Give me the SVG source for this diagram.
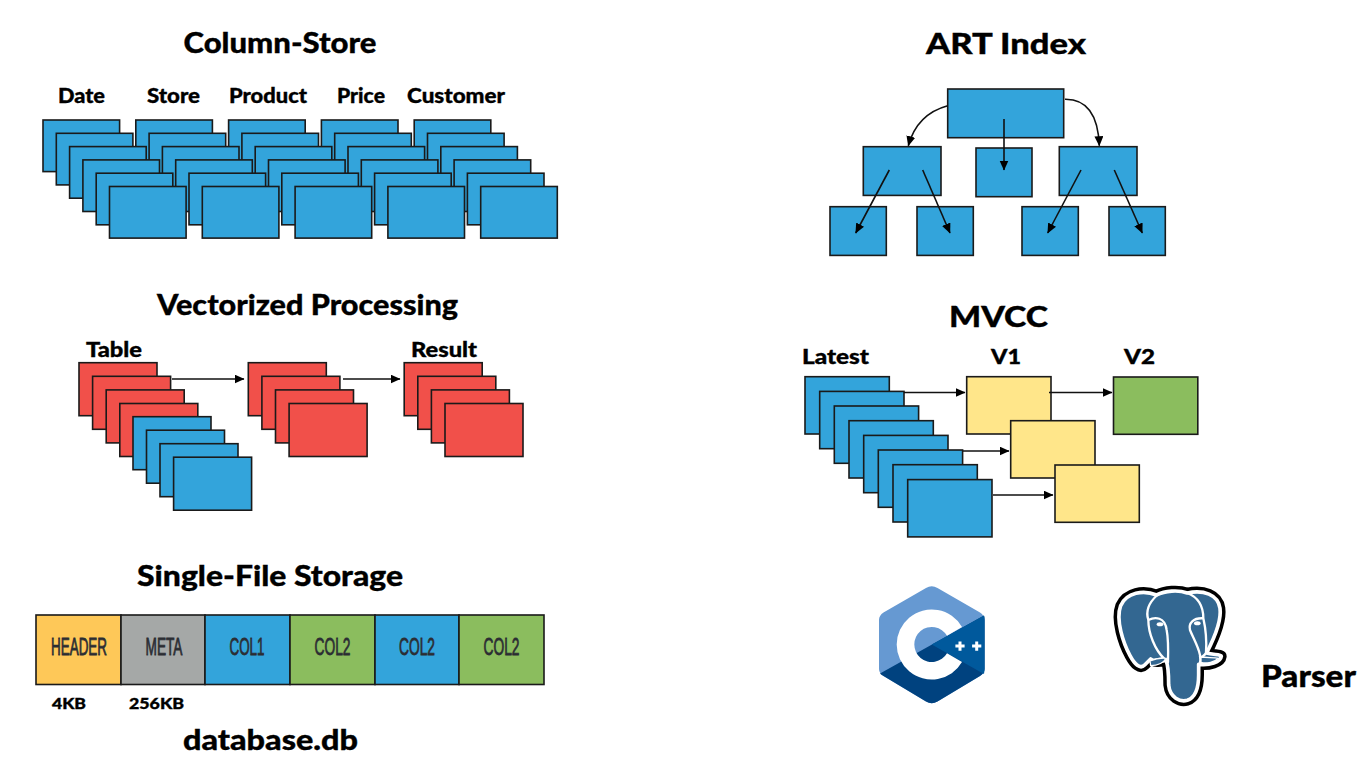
<svg xmlns="http://www.w3.org/2000/svg" width="1365" height="762" viewBox="0 0 1365 762">
<style>
text{font-family:"Lato","Open Sans","Liberation Sans",sans-serif;font-weight:900;fill:#000;text-anchor:middle;stroke:#000;stroke-width:.35}
.t{font-size:29px}.l{font-size:21px}.s{font-size:15px}
.c{font-family:"Liberation Sans Narrow","Liberation Sans",sans-serif;font-weight:400;font-size:23.5px;fill:#2b2d33;stroke:#2b2d33;stroke-width:.8}
rect{stroke:#1a1a1a;stroke-width:1.6}
.b{fill:#33a4db}.r{fill:#f1504a}.y{fill:#ffe68a}.g{fill:#8bbd5e}.h{fill:#fec858}.m{fill:#a5a8a7}
.a{fill:none;stroke:#111;stroke-width:1.6;marker-end:url(#ah)}
</style>
<defs>
<marker id="ah" markerUnits="userSpaceOnUse" markerWidth="11" markerHeight="10" refX="9.5" refY="4.5" orient="auto"><path d="M0 0L10 4.5L0 9Z" fill="#000"/></marker>
<g id="cs">
<rect class="b" x="0" y="0" width="76.6" height="51.6"/><rect class="b" x="13.3" y="13.3" width="76.6" height="51.6"/><rect class="b" x="26.6" y="26.6" width="76.6" height="51.6"/><rect class="b" x="39.9" y="39.9" width="76.6" height="51.6"/><rect class="b" x="53.2" y="53.2" width="76.6" height="51.6"/><rect class="b" x="66.5" y="66.5" width="76.6" height="51.6"/>
</g>
<g id="rs">
<rect class="r" x="0" y="0" width="78" height="53"/><rect class="r" x="13.6" y="13.6" width="78" height="53"/><rect class="r" x="27.2" y="27.2" width="78" height="53"/><rect class="r" x="40.8" y="40.8" width="78" height="53"/>
</g>
</defs>
<g id="column-store">
<text class="t" x="280" y="53" textLength="193" lengthAdjust="spacingAndGlyphs">Column-Store</text>
<text class="l" x="81.5" y="103" textLength="47" lengthAdjust="spacingAndGlyphs">Date</text>
<text class="l" x="173.5" y="103" textLength="53" lengthAdjust="spacingAndGlyphs">Store</text>
<text class="l" x="268" y="103" textLength="78" lengthAdjust="spacingAndGlyphs">Product</text>
<text class="l" x="361" y="103" textLength="48" lengthAdjust="spacingAndGlyphs">Price</text>
<text class="l" x="456" y="103" textLength="98" lengthAdjust="spacingAndGlyphs">Customer</text>
<use id="col5" href="#cs" x="414.2" y="120"/>
<use id="col4" href="#cs" x="321.4" y="120"/>
<use id="col3" href="#cs" x="228.6" y="120"/>
<use id="col2" href="#cs" x="135.8" y="120"/>
<use id="col1" href="#cs" x="43" y="120"/>
</g>
<g id="vectorized">
<text class="t" x="307.5" y="315" textLength="301" lengthAdjust="spacingAndGlyphs">Vectorized Processing</text>
<text class="l" x="114" y="357" textLength="56" lengthAdjust="spacingAndGlyphs">Table</text>
<text class="l" x="444" y="357" textLength="66" lengthAdjust="spacingAndGlyphs">Result</text>
<use href="#rs" x="79" y="362.7"/>
<rect class="b" x="133" y="416.7" width="78" height="53"/><rect class="b" x="146.5" y="430.2" width="78" height="53"/><rect class="b" x="160" y="443.7" width="78" height="53"/><rect class="b" x="173.6" y="457.2" width="78" height="53"/>
<use href="#rs" x="248.3" y="362.7"/>
<use href="#rs" x="404.2" y="362.7"/>
</g>
<g id="single-file">
<text class="t" x="270" y="586" textLength="266" lengthAdjust="spacingAndGlyphs">Single-File Storage</text>
<rect class="h" x="36" y="615" width="85" height="69.5"/>
<rect class="m" x="121" y="615" width="84" height="69.5"/>
<rect class="b" x="205" y="615" width="85" height="69.5"/>
<rect class="g" x="290" y="615" width="85" height="69.5"/>
<rect class="b" x="375" y="615" width="84" height="69.5"/>
<rect class="g" x="459" y="615" width="85" height="69.5"/>
<text class="c" x="79" y="655" textLength="56" lengthAdjust="spacingAndGlyphs">HEADER</text>
<text class="c" x="164" y="655" textLength="37" lengthAdjust="spacingAndGlyphs">META</text>
<text class="c" x="247" y="655" textLength="35" lengthAdjust="spacingAndGlyphs">COL1</text>
<text class="c" x="332.5" y="655" textLength="36" lengthAdjust="spacingAndGlyphs">COL2</text>
<text class="c" x="417" y="655" textLength="36" lengthAdjust="spacingAndGlyphs">COL2</text>
<text class="c" x="501.5" y="655" textLength="36" lengthAdjust="spacingAndGlyphs">COL2</text>
<text class="s" x="69" y="709" textLength="34" lengthAdjust="spacingAndGlyphs">4KB</text>
<text class="s" x="156.5" y="709" textLength="55" lengthAdjust="spacingAndGlyphs">256KB</text>
<text class="t" x="270.5" y="750" textLength="175" lengthAdjust="spacingAndGlyphs">database.db</text>
</g>
<g id="art-index">
<text class="t" x="1006" y="54" textLength="160" lengthAdjust="spacingAndGlyphs">ART Index</text>
<rect class="b" x="947.7" y="89" width="116" height="48.7"/>
<rect class="b" x="863.3" y="146.7" width="77.7" height="48.7"/>
<rect class="b" x="976" y="148" width="56" height="48.7"/>
<rect class="b" x="1059.3" y="146.7" width="77.7" height="48.7"/>
<rect class="b" x="830" y="206.7" width="56.3" height="48.7"/>
<rect class="b" x="917" y="206.7" width="56.3" height="48.7"/>
<rect class="b" x="1022" y="206.7" width="56.3" height="48.7"/>
<rect class="b" x="1109" y="206.7" width="56.3" height="48.7"/>
</g>
<g id="mvcc">
<text class="t" x="998.5" y="327" textLength="99" lengthAdjust="spacingAndGlyphs">MVCC</text>
<text class="l" x="835.5" y="364" textLength="67" lengthAdjust="spacingAndGlyphs">Latest</text>
<text class="l" x="1006" y="364" textLength="30" lengthAdjust="spacingAndGlyphs">V1</text>
<text class="l" x="1139.5" y="364" textLength="31" lengthAdjust="spacingAndGlyphs">V2</text>
<rect class="b" x="805" y="376.7" width="84.3" height="57.3"/><rect class="b" x="819.7" y="391.4" width="84.3" height="57.3"/><rect class="b" x="834.3" y="406" width="84.3" height="57.3"/><rect class="b" x="849" y="420.7" width="84.3" height="57.3"/><rect class="b" x="863.7" y="435.4" width="84.3" height="57.3"/><rect class="b" x="878.3" y="450" width="84.3" height="57.3"/><rect class="b" x="893" y="464.7" width="84.3" height="57.3"/><rect class="b" x="907.7" y="479.6" width="84.3" height="57.3"/>
<rect class="y" x="966.7" y="376.7" width="84.3" height="57.3"/>
<rect class="y" x="1010.7" y="420.7" width="84.3" height="57.3"/>
<rect class="y" x="1055" y="465" width="84.3" height="57.3"/>
<rect class="g" x="1113.5" y="377" width="84.3" height="57.3"/>
</g>
<g id="connectors">
<path class="a" d="M172 379H244"/>
<path class="a" d="M343 379H400"/>
<path class="a" d="M947.7 105.7C928 111 914 125 908.3 145.7"/>
<path class="a" d="M1065 99.3C1086 99 1098 113 1099.3 145.7"/>
<path class="a" d="M1004 119V170"/>
<path class="a" d="M889.3 170L855.7 233"/>
<path class="a" d="M922.7 170L950 233"/>
<path class="a" d="M1081 170L1047.7 233"/>
<path class="a" d="M1114.3 170L1142.3 233"/>
<path class="a" d="M904 392.5H965"/>
<path class="a" d="M963 451H1009"/>
<path class="a" d="M993 495H1053"/>
<path class="a" d="M1049 392.5H1112"/>
</g>
<g id="cpp-logo">
<path d="M926 588Q931.7 584.5 937.5 588L980 612.5Q984.5 615.5 984.5 620V669Q984.5 673 980 676L937.5 701.5Q931.7 705 926 701.5L883.5 676Q879 673 879 669V620Q879 615.5 883.5 612.5Z" fill="#6699d2"/>
<path d="M880 673.5L984 615.5Q984.5 617 984.5 620V669Q984.5 673 980 676L937.5 701.5Q931.7 705 926 701.5L883.5 676Q881 674.5 880 673.5Z" fill="#00427f"/>
<path d="M931.7 644.5L984 615.5Q984.5 617 984.5 620V669Q984.5 671 984 674Z" fill="#00599c"/>
<path d="M962 627A35 35 0 1 0 962 662L947 653.2A17.5 17.5 0 1 1 947 635.8Z" fill="#fff"/>
<path d="M955.4 644.6h3.1v-3.1h3v3.1h3.1v3h-3.1v3.1h-3v-3.1h-3.1zM972.1 644.6h3.1v-3.1h3v3.1h3.1v3h-3.1v3.1h-3v-3.1h-3.1z" fill="#fff"/>
</g>
<g id="postgres-logo" transform="translate(1100 575) scale(.3333)">
<path d="M170 60C130 44 80 52 62 92C46 135 70 205 90 242C104 268 120 284 134 270L152 252C160 262 180 262 198 255C206 275 206 300 206 330C210 368 240 382 262 376C290 366 296 330 296 300V268C328 272 362 262 364 244C364 238 340 240 320 234C340 195 366 140 360 100C354 58 310 44 262 54C235 44 195 47 170 60Z" fill="#000" stroke="#000" stroke-width="32" stroke-linejoin="round"/>
<path d="M170 60C130 44 80 52 62 92C46 135 70 205 90 242C104 268 120 284 134 270L152 252C160 262 180 262 198 255C206 275 206 300 206 330C210 368 240 382 262 376C290 366 296 330 296 300V268C328 272 362 262 364 244C364 238 340 240 320 234C340 195 366 140 360 100C354 58 310 44 262 54C235 44 195 47 170 60Z" fill="#336791" stroke="#fff" stroke-width="11" stroke-linejoin="round"/>
<path d="M172 60C150 80 135 105 145 135C145 175 165 225 192 250C175 250 150 258 150 255M145 135C165 125 195 125 200 165C205 190 205 225 204 262M262 54C290 65 310 90 310 130C280 128 265 145 270 165C280 190 295 215 300 240C302 250 301 260 299 270M310 130C318 165 320 205 318 234C310 245 305 248 300 245" fill="none" stroke="#fff" stroke-width="7" stroke-linecap="round" stroke-linejoin="round"/>
<path d="M303 262C320 268 345 260 356 250C340 248 322 248 303 246ZM152 272C175 272 192 262 198 250C180 248 165 252 150 258Z" fill="#336791" stroke="#fff" stroke-width="4"/>
<ellipse cx="180" cy="148" rx="10" ry="6" fill="#fff"/><ellipse cx="292" cy="145" rx="10" ry="6" fill="#fff"/>
</g>
<g id="parser"><text x="1308.5" y="687" font-size="30" textLength="95" lengthAdjust="spacingAndGlyphs">Parser</text></g>
</svg>
